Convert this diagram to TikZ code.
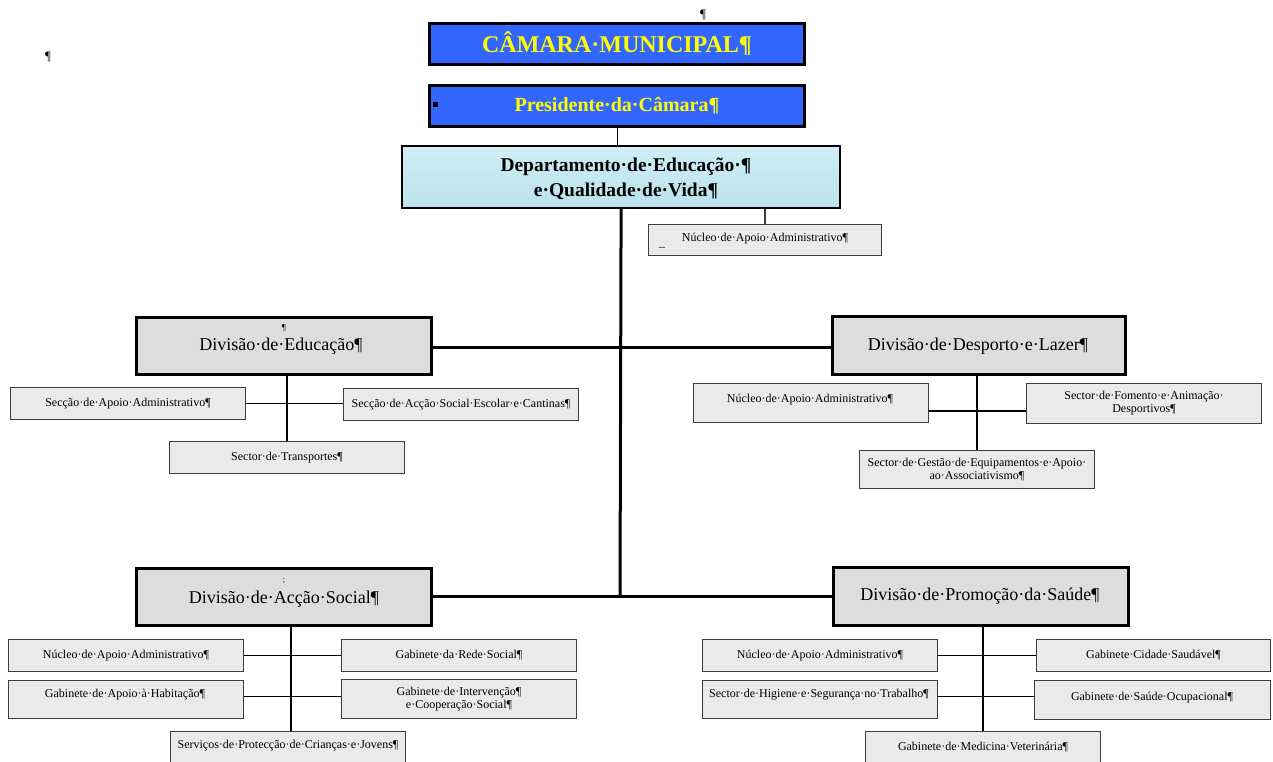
\documentclass[tikz,border=0pt]{standalone}
\usepackage{fontspec}
\setmainfont{Liberation Serif}
\usetikzlibrary{calc}
\definecolor{cmblue}{RGB}{51,102,255}
\definecolor{cmyellow}{RGB}{255,255,0}
\definecolor{deptblue}{RGB}{186,226,236}
\definecolor{deptlight}{RGB}{208,238,245}
\definecolor{divgray}{RGB}{221,221,221}
\definecolor{boxgray}{RGB}{234,234,234}
\definecolor{boxedge}{RGB}{60,60,60}
\begin{document}
\begin{tikzpicture}[x=1pt,y=-1pt,
  topbox/.style={draw=black,line width=3pt,fill=cmblue,inner sep=0pt,anchor=north west,text=cmyellow},
  deptbox/.style={draw=black,line width=2.2pt,top color=deptlight,bottom color=deptblue,inner sep=0pt,anchor=north west,align=center,font=\fontsize{19.5}{25}\selectfont\bfseries},
  divbox/.style={draw=black,line width=2.6pt,fill=divgray,inner sep=0pt,anchor=north west},
  sbox/.style={draw=boxedge,line width=1pt,fill=boxgray,inner sep=0pt,anchor=north west,align=center,font=\fontsize{12}{13}\selectfont},
  stxt/.style={inner sep=0pt,align=center,font=\fontsize{12}{13}\selectfont},
  divtxt/.style={inner sep=0pt,font=\fontsize{18}{20}\selectfont},
  pmark/.style={inner sep=0pt,font=\fontsize{13}{13}\selectfont},
  trunk/.style={line width=3pt},
  vline/.style={line width=2pt},
  hline/.style={line width=1.2pt}
]
\useasboundingbox (0,0) rectangle (1273,761);
\clip (0,0) rectangle (1273,761);

% loose paragraph marks
\node[pmark] (p1) at (703,15) {¶};
\node[pmark] (p2) at (48,57) {¶};

% top
\node[topbox,minimum width=375pt,minimum height=41pt,font=\fontsize{24}{24}\selectfont\bfseries] (cam) at (428,22) {CÂMARA·MUNICIPAL¶};
\node[topbox,minimum width=375pt,minimum height=41pt,font=\fontsize{20}{20}\selectfont\bfseries] (pres) at (428,84) {Presidente·da·Câmara¶};
\node[fill=black,inner sep=0pt,minimum size=5pt] (bul) at (435,104) {};
\node[deptbox,minimum width=438pt,minimum height=62pt] (dept) at (401,145) {};
\node[inner sep=0pt,align=center,font=\fontsize{19.5}{25}\selectfont\bfseries] (deptt) at (626,179) {Departamento·de·Educação·¶\\e·Qualidade·de·Vida¶};
\node[sbox,minimum width=233pt,minimum height=31pt] (dnuc) at (648,224) {};
\node[stxt] (dnuct) at (765,239) {Núcleo·de·Apoio·Administrativo¶};
\node[stxt] (dnucu) at (662,247) {\_};

% divisions
\node[divbox,minimum width=295pt,minimum height=57pt] (edu) at (135,316) {};
\node[divtxt] (edut) at (281,346) {Divisão·de·Educação¶};
\node[inner sep=0pt,font=\fontsize{9}{9}\selectfont] (edup) at (284,328) {¶};
\node[divbox,minimum width=293pt,minimum height=58pt] (desp) at (831,315) {};
\node[divtxt] (despt) at (978,346) {Divisão·de·Desporto·e·Lazer¶};
\node[divbox,minimum width=295pt,minimum height=57pt] (as) at (135,567) {};
\node[divtxt] (ast) at (284,599) {Divisão·de·Acção·Social¶};
\node[inner sep=0pt,font=\fontsize{8}{8}\selectfont] (asp) at (284,581) {;};
\node[divbox,minimum width=295pt,minimum height=58pt] (ps) at (832,566) {};
\node[divtxt] (pst) at (980,596) {Divisão·de·Promoção·da·Saúde¶};

% Educação
\node[sbox,minimum width=235pt,minimum height=32pt] (sa1) at (10,387) {Secção·de·Apoio·Administrativo¶};
\node[sbox,minimum width=235pt,minimum height=32pt] (sa2) at (343,388) {Secção·de·Acção·Social·Escolar·e·Cantinas¶};
\node[sbox,minimum width=235pt,minimum height=32pt] (tr) at (169,441) {Sector·de·Transportes¶};

% Desporto
\node[sbox,minimum width=235pt,minimum height=39pt] (dn) at (693,383) {};
\node[stxt] (dnt) at (810,400) {Núcleo·de·Apoio·Administrativo¶};
\node[sbox,minimum width=235pt,minimum height=40pt] (fom) at (1026,383) {Sector·de·Fomento·e·Animação·\\Desportivos¶};
\node[sbox,minimum width=235pt,minimum height=38pt] (ges) at (859,450) {Sector·de·Gestão·de·Equipamentos·e·Apoio·\\ao·Associativismo¶};

% Acção Social
\node[sbox,minimum width=235pt,minimum height=32pt] (an) at (8,639) {Núcleo·de·Apoio·Administrativo¶};
\node[sbox,minimum width=235pt,minimum height=32pt] (rs) at (341,639) {Gabinete·da·Rede·Social¶};
\node[sbox,minimum width=235pt,minimum height=38pt] (hab) at (8,680) {};
\node[stxt] (habt) at (125,695) {Gabinete·de·Apoio·à·Habitação¶};
\node[sbox,minimum width=235pt,minimum height=39pt] (int) at (341,679) {Gabinete·de·Intervenção¶\\e·Cooperação·Social¶};
\node[sbox,minimum width=235pt,minimum height=40pt] (serv) at (170,731) {};
\node[stxt] (servt) at (288,746) {Serviços·de·Protecção·de·Crianças·e·Jovens¶};

% Promoção da Saúde
\node[sbox,minimum width=235pt,minimum height=32pt] (pn) at (702,639) {Núcleo·de·Apoio·Administrativo¶};
\node[sbox,minimum width=234pt,minimum height=32pt] (cs) at (1036,639) {Gabinete·Cidade·Saudável¶};
\node[sbox,minimum width=235pt,minimum height=38pt] (hig) at (702,680) {};
\node[stxt] (higt) at (819,695) {Sector·de·Higiene·e·Segurança·no·Trabalho¶};
\node[sbox,minimum width=236pt,minimum height=39pt] (so) at (1034,680) {};
\node[stxt] (sot) at (1152,698) {Gabinete·de·Saúde·Ocupacional¶};
\node[sbox,minimum width=235pt,minimum height=40pt] (mv) at (865,731) {};
\node[stxt] (mvt) at (983,747) {Gabinete·de·Medicina·Veterinária¶};

% connectors
\coordinate (j2) at (620,596);
\draw[line width=1pt] (pres.south -| 617,0) -- (dept.north -| 617,0);
\draw[trunk] (dept.south) -- (j2);
\draw[line width=1.4pt,draw=boxedge] (dnuc.north |- dept.south) -- (dnuc.north);
\draw[trunk] ([yshift=-2pt]edu.east) -- ([yshift=-2pt]edu.east -| desp.west);
\draw[trunk] (as.east) -- (as.east -| ps.west);

\draw[vline] (tr.north |- edu.south) -- (tr.north);
\draw[hline] (sa1.east) -- (sa1.east -| sa2.west);

\draw[vline] (ges.north |- desp.south) -- (ges.north);
\draw[hline] ([yshift=-8pt]dn.east) -- ([yshift=-8pt]dn.east -| fom.west);

\draw[vline] ([xshift=3pt]serv.north |- as.south) -- ([xshift=3pt]serv.north);
\draw[hline] (an.east) -- (an.east -| rs.west);
\draw[hline] ([yshift=3pt]hab.east) -- ([yshift=3pt]hab.east -| int.west);

\draw[vline] (mv.north |- ps.south) -- (mv.north);
\draw[hline] (pn.east) -- (pn.east -| cs.west);
\draw[hline] ([yshift=3pt]hig.east) -- ([yshift=3pt]hig.east -| so.west);
\end{tikzpicture}
\end{document}
